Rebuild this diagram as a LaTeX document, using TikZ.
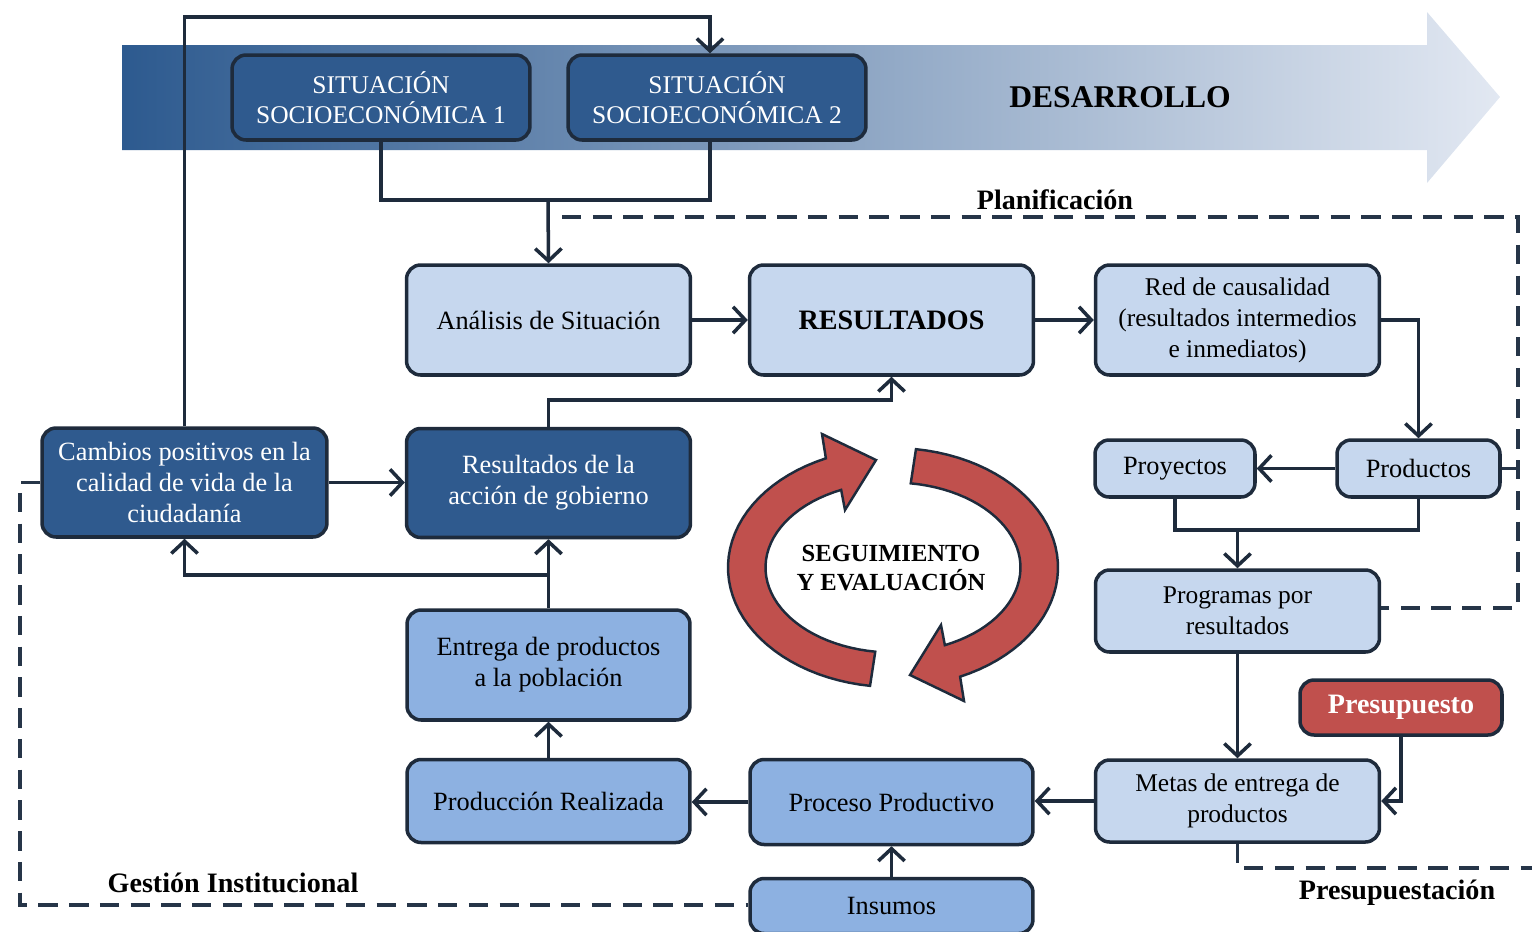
\documentclass[tikz,border=0pt]{standalone}
\usepackage{fontspec}
\setmainfont{Liberation Serif}
\usepackage{xcolor}
\usetikzlibrary{arrows.meta, positioning, calc}
\definecolor{cDark}{HTML}{2F5A8E}
\definecolor{cLight}{HTML}{C6D7EE}
\definecolor{cMid}{HTML}{8DB1E1}
\definecolor{cRed}{HTML}{C0504D}
\definecolor{cLine}{HTML}{1E2B3C}
\definecolor{cDash}{HTML}{263548}
\definecolor{bandLeft}{HTML}{2D5A8F}
\definecolor{bandMid}{HTML}{AFC1DA}
\definecolor{bandRight}{HTML}{E2E8F2}

\begin{document}
\begin{tikzpicture}[x=0.02cm, y=-0.02cm,
		box/.style={draw=cLine, line width=2pt, rounded corners=8pt, align=center, inner sep=2pt, font=\fontsize{15}{17.6}\selectfont},
		darkbox/.style={box, fill=cDark, text=white, minimum width=5.68cm, minimum height=2.18cm},
		lightbox/.style={box, fill=cLight, minimum width=5.68cm, minimum height=2.2cm},
		midbox/.style={box, fill=cMid, minimum width=5.66cm, minimum height=1.66cm},
		conn/.style={draw=cLine, line width=2pt},
		connarrow/.style={conn, -{Straight Barb[length=7pt, width=15pt]}},
		dashbound/.style={draw=cDash, line width=2.2pt, dash pattern=on 11pt off 6.5pt},
		zonelabel/.style={font=\fontsize{16}{18}\selectfont\bfseries}]
	\useasboundingbox (0,0) rectangle (1532,931);
	
	\shade[left color=bandLeft, middle color=bandMid, right color=bandRight]
		(122,45) -- (1427,45) -- (1427,12) -- (1500,97) -- (1427,183) -- (1427,150) -- (122,150) -- cycle;
	\node[zonelabel, font=\fontsize{18}{20}\selectfont\bfseries] (devlbl) at (1120,97) {DESARROLLO};
	
	\node[darkbox, minimum width=5.96cm, minimum height=1.7cm, font=\fontsize{14.5}{17}\selectfont] (sit1) at (381,97.5) {SITUACIÓN\\SOCIOECONÓMICA 1};
	\node[darkbox, minimum width=5.96cm, minimum height=1.7cm, font=\fontsize{14.5}{17}\selectfont] (sit2) at (717,97.5) {SITUACIÓN\\SOCIOECONÓMICA 2};
	
	\node[lightbox] (analisis) at (548.5,320) {Análisis de Situación};
	\node[lightbox, font=\fontsize{16}{18}\selectfont\bfseries] (resultados) at (891.5,320) {RESULTADOS};
	\node[lightbox, font=\fontsize{14.5}{17.6}\selectfont] (red) at (1237.5,320) {Red de causalidad\\(resultados intermedios\\e inmediatos)};
	\node[lightbox, minimum width=3.2cm, minimum height=1.14cm] (proyectos) at (1175,468.5) {Proyectos};
	\node[lightbox, minimum width=3.26cm, minimum height=1.14cm] (productos) at (1418.5,468.5) {Productos};
	\node[lightbox, minimum height=1.64cm, font=\fontsize{14.5}{17.6}\selectfont] (programas) at (1237.5,611) {Programas por\\resultados};
	\node[box, fill=cRed, text=white, minimum width=4.04cm, minimum height=1.1cm, font=\fontsize{16}{18}\selectfont\bfseries] (presupuesto) at (1401,707.5) {Presupuesto};
	\node[lightbox, minimum height=1.64cm, font=\fontsize{14.5}{17.6}\selectfont] (metas) at (1237.5,801) {Metas de entrega de\\productos};
	
	\node[midbox, minimum height=1.7cm] (proceso) at (891.5,802) {Proceso Productivo};
	\node[midbox] (produccion) at (548.5,801) {Producción Realizada};
	\node[midbox, minimum height=1.1cm] (insumos) at (891.5,906) {Insumos};
	\node[midbox, minimum height=2.2cm] (entrega) at (548.5,665) {Entrega de productos\\a la población};
	
	\node[darkbox] (resgob) at (548.5,483) {Resultados de la\\acción de gobierno};
	\node[darkbox, minimum width=5.7cm] (cambios) at (184.5,482.5) {Cambios positivos en la\\calidad de vida de la\\ciudadanía};
	
	\coordinate (topbend) at (710,17);
	\coordinate (sitjoin) at (548,200);
	\coordinate (prodjoin) at (1237.5,530);
	\coordinate (gobjoin) at (548.5,575);
	\coordinate (resjoin) at (548.5,400);
	
	\draw[connarrow] (cambios.north) |- (topbend) -- (topbend |- sit2.north);
	\draw[conn] (sit1.south) |- (sitjoin) -| (topbend |- sit2.south);
	\draw[connarrow] (sitjoin) -- (analisis.north);
	\draw[connarrow] (analisis) -- (resultados);
	\draw[connarrow] (resultados) -- (red);
	\draw[connarrow] (red.east) -| (productos.north);
	\draw[connarrow] (productos) -- (proyectos);
	\draw[conn] (proyectos.south) |- (prodjoin) -| (productos.south);
	\draw[connarrow] (prodjoin) -- (programas.north);
	\draw[connarrow] (programas) -- (metas);
	\draw[connarrow] (presupuesto.south) |- (metas.east);
	\draw[connarrow] (metas.west) -- (metas.west -| proceso.east);
	\draw[connarrow] (proceso.west) -- (proceso.west -| produccion.east);
	\draw[connarrow] (insumos) -- (proceso);
	\draw[connarrow] (produccion) -- (entrega);
	\draw[connarrow] (entrega) -- (resgob);
	\draw[connarrow] (gobjoin) -| (cambios.south);
	\draw[connarrow] (cambios.east) -- (cambios.east -| resgob.west);
	\draw[connarrow] (resgob.north) |- (resjoin) -| (resultados.south);
	
	\coordinate (planstart) at (562,217);
	\coordinate (plancorner) at (1518,608);
	\coordinate (gestcorner) at (20,905);
	\coordinate (presend) at (1532,868);
	\draw[dashbound] (planstart) -| (plancorner) -- (plancorner -| programas.east);
	\draw[conn, draw=cDash] (productos.east) -- (productos.east -| plancorner);
	\draw[dashbound] (cambios.west) -| (gestcorner) -- (gestcorner -| insumos.west);
	\draw[dashbound] (metas.south) |- (presend);
	
	\node[zonelabel] (planlbl) at (1055,200) {Planificación};
	\node[zonelabel] (gestlbl) at (233,883) {Gestión Institucional};
	\node[zonelabel] (preslbl) at (1397,893) {Presupuestación};
	
	\foreach \turn in {0,180}
		\filldraw[fill=cRed, draw=cLine, line width=1.4pt, rotate around={\turn:(893,567.5)}]
			plot[domain=98:246, samples=40] ({893+165*cos(\x)},{567.5+119.5*sin(\x)})
			-- (822,434) -- (876,460) -- (845,510)
			-- plot[domain=246:98, samples=40] ({893+127.5*cos(\x)},{567.5+85*sin(\x)})
			-- cycle;
	\node[align=center, font=\fontsize{14}{17}\selectfont\bfseries] (cyclbl) at (891,568) {SEGUIMIENTO\\Y EVALUACIÓN};
\end{tikzpicture}
\end{document}
